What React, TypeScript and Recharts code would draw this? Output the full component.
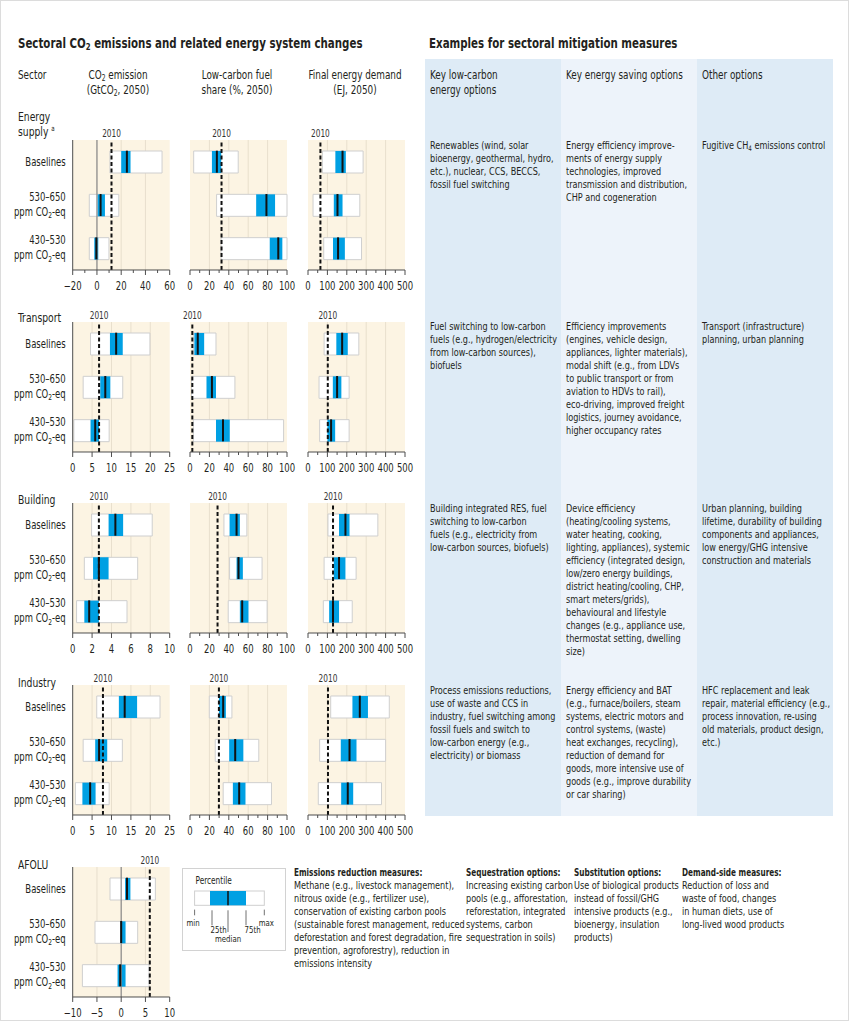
import React from "react";
import {
  ComposedChart,
  Bar,
  Scatter,
  XAxis,
  YAxis,
  CartesianGrid,
  ReferenceLine,
} from "recharts";

const FONT = "'Liberation Sans Narrow', 'Arial Narrow', 'DejaVu Sans Condensed', sans-serif";
const INK = "#231f20";
const BLUE = "#00a0e3";
const SAND = "#fcf4e3";
// horizontal squeeze to imitate the condensed face of the original
const SX = 0.82;

const scenarios = ["Baselines", "530–650", "430–530"];

// each row: [min, 25th, median, 75th, max]
const supplyCo2 = [[10.7, 20, 24.7, 27.7, 53.7], [-6.3, 0.5, 3, 6.6, 18], [-6.3, -2.2, -0.5, 1.1, 9.9]];
const supplyShare = [[3.8, 22.6, 27.7, 32.2, 49.7], [27.4, 68.2, 78.8, 87.7, 100], [32, 82.2, 91, 95.2, 100]];
const supplyDemand = [[74, 141, 178, 195, 284], [26, 133, 152, 178, 267], [81, 129, 155, 190, 276]];
const transportCo2 = [[4.6, 9.6, 11.2, 12.9, 19.9], [2.7, 7.1, 8.4, 9.7, 12.9], [0.3, 4.6, 5.8, 6.8, 9.4]];
const transportShare = [[3.5, 4.5, 8, 14.6, 26.8], [1.5, 17, 22.6, 26.8, 46.3], [3.5, 26.8, 34, 41, 96.5]];
const transportDemand = [[83, 146, 176, 205, 262], [57, 128, 150, 172, 212], [60, 100, 119, 140, 212]];
const buildingCo2 = [[1.95, 3.7, 4.4, 5.2, 8.2], [1.2, 2.1, 2.7, 3.7, 6.7], [0.4, 1.2, 1.7, 2.7, 5.6]];
const buildingShare = [[35, 40.8, 48, 51.4, 58.6], [40.8, 48, 50, 54.5, 74.3], [39.4, 51.4, 53.8, 60.3, 79.5]];
const buildingDemand = [[103, 160, 193, 214, 360], [83, 133, 160, 193, 248], [79, 109, 129, 160, 228]];
const industryCo2 = [[6.2, 11.9, 13.4, 16.6, 22.5], [2.7, 5.8, 6.8, 8.9, 12.8], [0.7, 2.5, 4.5, 5.9, 9.4]];
const industryShare = [[19.9, 29.8, 34.2, 37, 43.2], [26, 40.4, 46.6, 55, 70.9], [34.2, 44.2, 50.7, 57.2, 84]];
const industryDemand = [[117, 229, 267, 309, 419], [60, 169, 214, 250, 400], [53, 171, 205, 233, 379]];
const afoluCo2 = [[-2.3, 0.8, 1.2, 1.9, 7.05], [-5.4, -0.15, 0, 0.9, 3.4], [-8, -0.75, -0.2, 0.9, 5.75]];

// 2010 levels: supply, transport, building, industry, AFOLU
const emission2010 = [12, 6.8, 2.7, 7.8, 5.9];
const share2010 = [32.5, 2.4, 28.4, 29.8];
const demand2010 = [64, 102, 129, 103];

const supplyCo2Ticks = [-20, 0, 20, 40, 60];
const supplyCo2Minor = [-10, 10, 30, 50];
const shareTicks = [0, 20, 40, 60, 80, 100];
const shareMinor = [10, 30, 50, 70, 90];
const demandTicks = [0, 100, 200, 300, 400, 500];
const demandMinor = [50, 150, 250, 350, 450];
const co2Ticks25 = [0, 5, 10, 15, 20, 25];
const co2Ticks10 = [0, 2, 4, 6, 8, 10];
const afoluTicks = [-10, -5, 0, 5, 10];

const PLOT_W = 97;
const PLOT_H = 130;
const TOP_PAD = 20;
const AXIS_H = 25;
const colLefts = [72.7, 190, 308];
const rowTops = [140, 322, 503, 685, 867];

function fmt(v: number) {
  return v < 0 ? `\u2212${Math.abs(v)}` : `${v}`;
}

function AxisTick(props: any) {
  const { x, y, payload, majors } = props;
  const major = majors.includes(payload.value);
  return (
    <g>
      <line x1={x} x2={x} y1={y} y2={y + (major ? 5 : 3)} stroke="#4d4d4d" />
      {major && (
        <text transform={`translate(${x} ${y + 20}) scale(${SX} 1)`} textAnchor="middle" fontSize={11.5} fill={INK}>
          {fmt(payload.value)}
        </text>
      )}
    </g>
  );
}

function ScenarioTick(props: any) {
  const { x, y, payload } = props;
  const tx = x - 7;
  const base = payload.value === "Baselines";
  return (
    <g transform={`translate(${tx} ${y}) scale(${SX} 1)`}>
      {base ? (
        <text x={0} y={4} textAnchor="end" fontSize={11.5} fill={INK}>
          Baselines
        </text>
      ) : (
        <text textAnchor="end" fontSize={11.5} fill={INK}>
          <tspan x={0} y={-4}>{payload.value}</tspan>
          <tspan x={0} y={11}>
            ppm CO<tspan fontSize={8} dy={2.5}>2</tspan>
            <tspan dy={-2.5}>-eq</tspan>
          </tspan>
        </text>
      )}
    </g>
  );
}

function MedianMark(props: any) {
  const { cx, cy } = props;
  return <line x1={cx} x2={cx} y1={cy - 11} y2={cy + 11} stroke="#111" strokeWidth={2} />;
}

function YearLabel(props: any) {
  const { viewBox } = props;
  return (
    <text transform={`translate(${viewBox.x} ${viewBox.y - 3}) scale(${SX} 1)`} textAnchor="middle" fontSize={10} fill="#333">
      2010
    </text>
  );
}

interface PanelProps {
  col: number;
  row: number;
  boxes: number[][];
  domain: [number, number];
  majors: number[];
  minors?: number[];
  base: number;
  zero?: boolean;
}

function Panel({ col, row, boxes, domain, majors, minors = [], base, zero = false }: PanelProps) {
  const data = scenarios.map((label, i) => {
    const [min, q1, med, q3, max] = boxes[i];
    return { label, min, q1, med, q3, max };
  });
  const labels = col === 0;
  const yWidth = labels ? colLefts[0] : 0;
  const padL = labels ? 0 : 12;
  const width = yWidth + padL + PLOT_W + 12;
  const grid = majors.filter((v) => v !== domain[0] && v !== domain[1]);
  const allTicks = [...majors, ...minors].sort((a, b) => a - b);
  return (
    <div style={{ position: "absolute", left: labels ? 0 : colLefts[col] - 12, top: rowTops[row] - TOP_PAD }}>
      <ComposedChart
        layout="vertical"
        width={width}
        height={TOP_PAD + PLOT_H + AXIS_H}
        data={data}
        margin={{ top: TOP_PAD, right: 12, bottom: 0, left: padL }}
        barGap={-22}
      >
        <CartesianGrid horizontal={false} verticalValues={grid} stroke="#e8dfcd" fill={SAND} />
        <XAxis
          type="number"
          domain={domain}
          ticks={allTicks}
          interval={0}
          height={AXIS_H}
          tickSize={0}
          tickMargin={0}
          tickLine={false}
          axisLine={{ stroke: "#4d4d4d" }}
          tick={<AxisTick majors={majors} />}
        />
        <YAxis
          type="category"
          dataKey="label"
          width={yWidth}
          tickSize={0}
          tickMargin={0}
          tickLine={false}
          axisLine={{ stroke: "#4d4d4d" }}
          tick={labels ? <ScenarioTick /> : false}
        />
        {zero && <ReferenceLine x={0} stroke="#8a8a8a" strokeWidth={1.2} />}
        <Bar dataKey={(d: any) => [d.min, d.max]} barSize={22} fill="#fff" stroke="#cfcfcf" isAnimationActive={false} />
        <Bar dataKey={(d: any) => [d.q1, d.q3]} barSize={22} fill={BLUE} isAnimationActive={false} />
        <Scatter dataKey="med" shape={<MedianMark />} isAnimationActive={false} />
        <ReferenceLine x={base} stroke="#111" strokeWidth={2} strokeDasharray="4 2.5" label={<YearLabel />} />
      </ComposedChart>
    </div>
  );
}

const Sub = ({ children }: { children: React.ReactNode }) => (
  <sub style={{ fontSize: "0.68em", verticalAlign: "-0.25em", lineHeight: 0 }}>{children}</sub>
);

interface BlockProps {
  x: number;
  y: number;
  lines: React.ReactNode[];
  bold?: string;
  size?: number;
  lh?: number;
  sx?: number;
}

function TextBlock({ x, y, lines, bold, size = 11, lh = 13, sx = SX }: BlockProps) {
  return (
    <div
      style={{
        position: "absolute",
        left: x,
        top: y - lh / 2,
        fontSize: size,
        lineHeight: `${lh}px`,
        whiteSpace: "nowrap",
        color: INK,
        transform: `scaleX(${sx})`,
        transformOrigin: "0 0",
      }}
    >
      {bold && <div style={{ fontWeight: "bold", transform: "scaleX(0.9)", transformOrigin: "0 0" }}>{bold}</div>}
      {lines.map((l, i) => (
        <div key={i}>{l}</div>
      ))}
    </div>
  );
}

function CenterBlock({ cx, y, lines }: { cx: number; y: number; lines: React.ReactNode[] }) {
  return (
    <div
      style={{
        position: "absolute",
        left: cx - 75,
        width: 150,
        top: y - 7.5,
        fontSize: 12,
        lineHeight: "15px",
        textAlign: "center",
        whiteSpace: "nowrap",
        transform: `scaleX(${SX})`,
        transformOrigin: "50% 0",
      }}
    >
      {lines.map((l, i) => (
        <div key={i}>{l}</div>
      ))}
    </div>
  );
}

export default function App() {
  return (
    <div style={{ position: "relative", width: 851, height: 1024, fontFamily: FONT, color: INK, background: "#fff", overflow: "hidden" }}>
      <style>{"body{margin:0}"}</style>
      <div style={{ position: "absolute", left: 0, top: 0, width: 849, height: 1021, border: "1px solid #dcdcdc", boxSizing: "border-box" }} />

      {/* blue columns */}
      <div style={{ position: "absolute", left: 425, top: 59, width: 136, height: 757, background: "#deebf6" }} />
      <div style={{ position: "absolute", left: 561, top: 59, width: 136, height: 757, background: "#edf3fa" }} />
      <div style={{ position: "absolute", left: 697, top: 59, width: 136, height: 757, background: "#deebf6" }} />

      {/* titles */}
      <TextBlock x={18} y={43} size={13.5} lh={16} sx={0.845} lines={[<b>Sectoral CO<Sub>2</Sub> emissions and related energy system changes</b>]} />
      <TextBlock x={429} y={43} size={13.5} lh={16} sx={0.845} lines={[<b>Examples for sectoral mitigation measures</b>]} />

      {/* column headers */}
      <TextBlock x={18} y={75} size={12} lh={15} lines={["Sector"]} />
      <CenterBlock cx={118} y={75} lines={[<span>CO<Sub>2</Sub> emission</span>, <span>(GtCO<Sub>2</Sub>, 2050)</span>]} />
      <CenterBlock cx={237} y={75} lines={["Low-carbon fuel", "share (%, 2050)"]} />
      <CenterBlock cx={355} y={75} lines={["Final energy demand", "(EJ, 2050)"]} />
      <TextBlock x={430} y={75} size={12} lh={15} lines={["Key low-carbon", "energy options"]} />
      <TextBlock x={566} y={75} size={12} lh={15} lines={["Key energy saving options"]} />
      <TextBlock x={702} y={75} size={12} lh={15} lines={["Other options"]} />

      {/* sector names */}
      <TextBlock
        x={18}
        y={116}
        size={12.5}
        lh={15}
        lines={[
          "Energy",
          <span>
            supply <sup style={{ fontSize: "0.6em", lineHeight: 0 }}>a</sup>
          </span>,
        ]}
      />
      <TextBlock x={18} y={317} size={12.5} lh={15} lines={["Transport"]} />
      <TextBlock x={18} y={499} size={12.5} lh={15} lines={["Building"]} />
      <TextBlock x={18} y={682} size={12.5} lh={15} lines={["Industry"]} />
      <TextBlock x={18} y={864} size={12.5} lh={15} lines={["AFOLU"]} />

      {/* charts */}
      <Panel col={0} row={0} boxes={supplyCo2} domain={[-20, 60]} majors={supplyCo2Ticks} minors={supplyCo2Minor} base={emission2010[0]} zero />
      <Panel col={1} row={0} boxes={supplyShare} domain={[0, 100]} majors={shareTicks} minors={shareMinor} base={share2010[0]} />
      <Panel col={2} row={0} boxes={supplyDemand} domain={[0, 500]} majors={demandTicks} minors={demandMinor} base={demand2010[0]} />

      <Panel col={0} row={1} boxes={transportCo2} domain={[0, 25]} majors={co2Ticks25} base={emission2010[1]} />
      <Panel col={1} row={1} boxes={transportShare} domain={[0, 100]} majors={shareTicks} minors={shareMinor} base={share2010[1]} />
      <Panel col={2} row={1} boxes={transportDemand} domain={[0, 500]} majors={demandTicks} minors={demandMinor} base={demand2010[1]} />

      <Panel col={0} row={2} boxes={buildingCo2} domain={[0, 10]} majors={co2Ticks10} base={emission2010[2]} />
      <Panel col={1} row={2} boxes={buildingShare} domain={[0, 100]} majors={shareTicks} minors={shareMinor} base={share2010[2]} />
      <Panel col={2} row={2} boxes={buildingDemand} domain={[0, 500]} majors={demandTicks} minors={demandMinor} base={demand2010[2]} />

      <Panel col={0} row={3} boxes={industryCo2} domain={[0, 25]} majors={co2Ticks25} base={emission2010[3]} />
      <Panel col={1} row={3} boxes={industryShare} domain={[0, 100]} majors={shareTicks} minors={shareMinor} base={share2010[3]} />
      <Panel col={2} row={3} boxes={industryDemand} domain={[0, 500]} majors={demandTicks} minors={demandMinor} base={demand2010[3]} />

      <Panel col={0} row={4} boxes={afoluCo2} domain={[-10, 10]} majors={afoluTicks} base={emission2010[4]} zero />

      {/* legend */}
      <div style={{ position: "absolute", left: 181.5, top: 867.5, width: 104.5, height: 83, border: "1px solid #d2d2d2", boxSizing: "border-box", background: "#fff" }}>
        <svg width={104} height={82} style={{ position: "absolute", left: -1, top: -1, fontFamily: FONT }}>
          <text transform={`translate(13.5 15.5) scale(${SX} 1)`} fontSize={10} fill={INK}>Percentile</text>
          <rect x={12.6} y={23} width={69.7} height={14.3} fill="#fff" stroke="#cfcfcf" />
          <rect x={28} y={23} width={36} height={14.3} fill={BLUE} />
          <line x1={46} x2={46} y1={23} y2={37.3} stroke="#111" strokeWidth={1.5} />
          <g stroke="#4d4d4d" strokeWidth={0.8}>
            <line x1={12.6} x2={12.6} y1={41.6} y2={47.3} />
            <line x1={30} x2={30} y1={42.3} y2={57.3} />
            <line x1={46} x2={46} y1={42.3} y2={64} />
            <line x1={64} x2={64} y1={42.3} y2={57.3} />
            <line x1={82.3} x2={82.3} y1={41.6} y2={47.3} />
          </g>
          <g fontSize={9.5} fill={INK} textAnchor="middle">
            <text transform={`translate(11 57.6) scale(${SX} 1)`}>min</text>
            <text transform={`translate(36.6 65.3) scale(${SX} 1)`}>25th</text>
            <text transform={`translate(46 74.3) scale(${SX} 1)`}>median</text>
            <text transform={`translate(70.6 65.3) scale(${SX} 1)`}>75th</text>
            <text transform={`translate(84.3 57.6) scale(${SX} 1)`}>max</text>
          </g>
        </svg>
      </div>

      {/* Energy supply */}
      <TextBlock x={430} y={145} lines={["Renewables (wind, solar", "bioenergy, geothermal, hydro,", "etc.), nuclear, CCS, BECCS,", "fossil fuel switching"]} />
      <TextBlock
        x={566}
        y={145}
        lines={["Energy efficiency improve-", "ments of energy supply", "technologies, improved", "transmission and distribution,", "CHP and cogeneration"]}
      />
      <TextBlock x={702} y={145} lines={[<span>Fugitive CH<Sub>4</Sub> emissions control</span>]} />

      {/* Transport */}
      <TextBlock x={430} y={326} lines={["Fuel switching to low-carbon", "fuels (e.g., hydrogen/electricity", "from low-carbon sources),", "biofuels"]} />
      <TextBlock
        x={566}
        y={326}
        lines={[
          "Efficiency improvements",
          "(engines, vehicle design,",
          "appliances, lighter materials),",
          "modal shift (e.g., from LDVs",
          "to public transport or from",
          "aviation to HDVs to rail),",
          "eco-driving, improved freight",
          "logistics, journey avoidance,",
          "higher occupancy rates",
        ]}
      />
      <TextBlock x={702} y={326} lines={["Transport (infrastructure)", "planning, urban planning"]} />

      {/* Building */}
      <TextBlock x={430} y={508} lines={["Building integrated RES, fuel", "switching to low-carbon", "fuels (e.g., electricity from", "low-carbon sources, biofuels)"]} />
      <TextBlock
        x={566}
        y={508}
        lines={[
          "Device efficiency",
          "(heating/cooling systems,",
          "water heating, cooking,",
          "lighting, appliances), systemic",
          "efficiency (integrated design,",
          "low/zero energy buildings,",
          "district heating/cooling, CHP,",
          "smart meters/grids),",
          "behavioural and lifestyle",
          "changes (e.g., appliance use,",
          "thermostat setting, dwelling",
          "size)",
        ]}
      />
      <TextBlock
        x={702}
        y={508}
        lines={["Urban planning, building", "lifetime, durability of building", "components and appliances,", "low energy/GHG intensive", "construction and materials"]}
      />

      {/* Industry */}
      <TextBlock
        x={430}
        y={690}
        lines={[
          "Process emissions reductions,",
          "use of waste and CCS in",
          "industry, fuel switching among",
          "fossil fuels and switch to",
          "low-carbon energy (e.g.,",
          "electricity) or biomass",
        ]}
      />
      <TextBlock
        x={566}
        y={690}
        lines={[
          "Energy efficiency and BAT",
          "(e.g., furnace/boilers, steam",
          "systems, electric motors and",
          "control systems, (waste)",
          "heat exchanges,  recycling),",
          "reduction of demand for",
          "goods, more intensive use of",
          "goods (e.g., improve durability",
          "or car sharing)",
        ]}
      />
      <TextBlock
        x={702}
        y={690}
        lines={["HFC replacement and leak", "repair, material efficiency (e.g.,", "process innovation, re-using", "old materials, product design,", "etc.)"]}
      />

      {/* AFOLU */}
      <TextBlock
        x={294}
        y={872}
        bold="Emissions reduction measures:"
        lines={[
          "Methane (e.g., livestock management),",
          "nitrous oxide (e.g., fertilizer use),",
          "conservation of existing carbon pools",
          "(sustainable forest management, reduced",
          "deforestation and forest degradation, fire",
          "prevention, agroforestry), reduction in",
          "emissions intensity",
        ]}
      />
      <TextBlock
        x={466}
        y={872}
        bold="Sequestration options:"
        lines={["Increasing existing carbon", "pools (e.g., afforestation,", "reforestation, integrated", "systems, carbon", "sequestration in soils)"]}
      />
      <TextBlock
        x={574}
        y={872}
        bold="Substitution options:"
        lines={["Use of biological products", "instead of fossil/GHG", "intensive products (e.g.,", "bioenergy, insulation", "products)"]}
      />
      <TextBlock
        x={682}
        y={872}
        bold="Demand-side measures:"
        lines={["Reduction of loss and", "waste of food, changes", "in human diets, use of", "long-lived wood products"]}
      />
    </div>
  );
}
